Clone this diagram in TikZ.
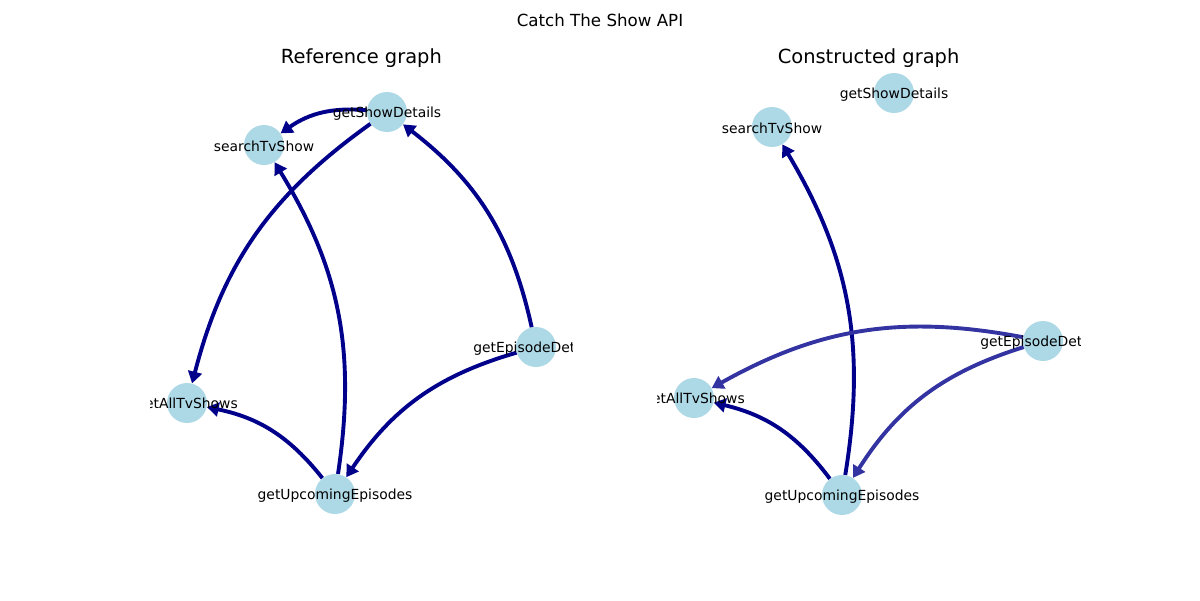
\documentclass[tikz,border=0pt]{standalone}
\usepackage{fontspec}
\setmainfont{DejaVu Sans}
\usetikzlibrary{arrows.meta}
\definecolor{nodeblue}{HTML}{ADD8E6}
\definecolor{edgedark}{HTML}{00008B}
\definecolor{edgelight}{HTML}{3333A2}
\tikzset{
  vert/.style={circle, fill=nodeblue, minimum size=28.8pt, inner sep=0pt},
  lbl/.style={font=\fontsize{10}{12}\selectfont, inner sep=0pt, text=black},
  edge/.style={draw=edgedark, line width=2.8pt, -{Triangle[length=8.5pt,width=10pt]}, bend right=20},
  edgel/.style={edge, draw=edgelight},
}
\begin{document}
\begin{tikzpicture}[x=0.72pt, y=-0.72pt]
\useasboundingbox (0,0) rectangle (1200,600);
% titles
\node[font=\fontsize{12}{14}\selectfont] (sup) at (600,20) {Catch The Show API};
\node[font=\fontsize{14}{17}\selectfont] (t1) at (361.4,58) {Reference graph};
\node[font=\fontsize{14}{17}\selectfont] (t2) at (868.6,58) {Constructed graph};
% left panel nodes
\node[vert] (lSD) at (387,112) {};
\node[vert] (lST) at (264,145) {};
\node[vert] (lED) at (536,347) {};
\node[vert] (lAT) at (187,403) {};
\node[vert] (lUE) at (335,494) {};
% right panel nodes
\node[vert] (rST) at (772,127) {};
\node[vert] (rSD) at (894,93) {};
\node[vert] (rED) at (1043,341) {};
\node[vert] (rAT) at (694,398) {};
\node[vert] (rUE) at (842,495) {};
% left edges
\draw[edge] (lSD) to (lST);
\draw[edge] (lSD) to (lAT);
\draw[edge] (lUE) to (lST);
\draw[edge] (lED) to (lSD);
\draw[edge] (lUE) to (lAT);
\draw[edge] (lED) to (lUE);
% right edges
\draw[edge] (rUE) to (rST);
\draw[edgel] (rED) to (rAT);
\draw[edge] (rUE) to (rAT);
\draw[edgel] (rED) to (rUE);
% labels, clipped to the axes
\begin{scope}
\clip (150,72) rectangle (572.7,534);
\node[lbl] (llSD) at ([yshift=-1pt]lSD) {getShowDetails};
\node[lbl] (llST) at ([yshift=-1pt]lST) {searchTvShow};
\node[lbl] (llED) at ([yshift=-1pt]lED) {getEpisodeDetails};
\node[lbl] (llAT) at ([yshift=-1pt]lAT) {getAllTvShows};
\node[lbl] (llUE) at ([yshift=-1pt]lUE) {getUpcomingEpisodes};
\end{scope}
\begin{scope}
\clip (657.3,72) rectangle (1080,534);
\node[lbl] (rlSD) at ([yshift=-1pt]rSD) {getShowDetails};
\node[lbl] (rlST) at ([yshift=-1pt]rST) {searchTvShow};
\node[lbl] (rlED) at ([yshift=-1pt]rED) {getEpisodeDetails};
\node[lbl] (rlAT) at ([yshift=-1pt]rAT) {getAllTvShows};
\node[lbl] (rlUE) at ([yshift=-1pt]rUE) {getUpcomingEpisodes};
\end{scope}
\end{tikzpicture}
\end{document}
